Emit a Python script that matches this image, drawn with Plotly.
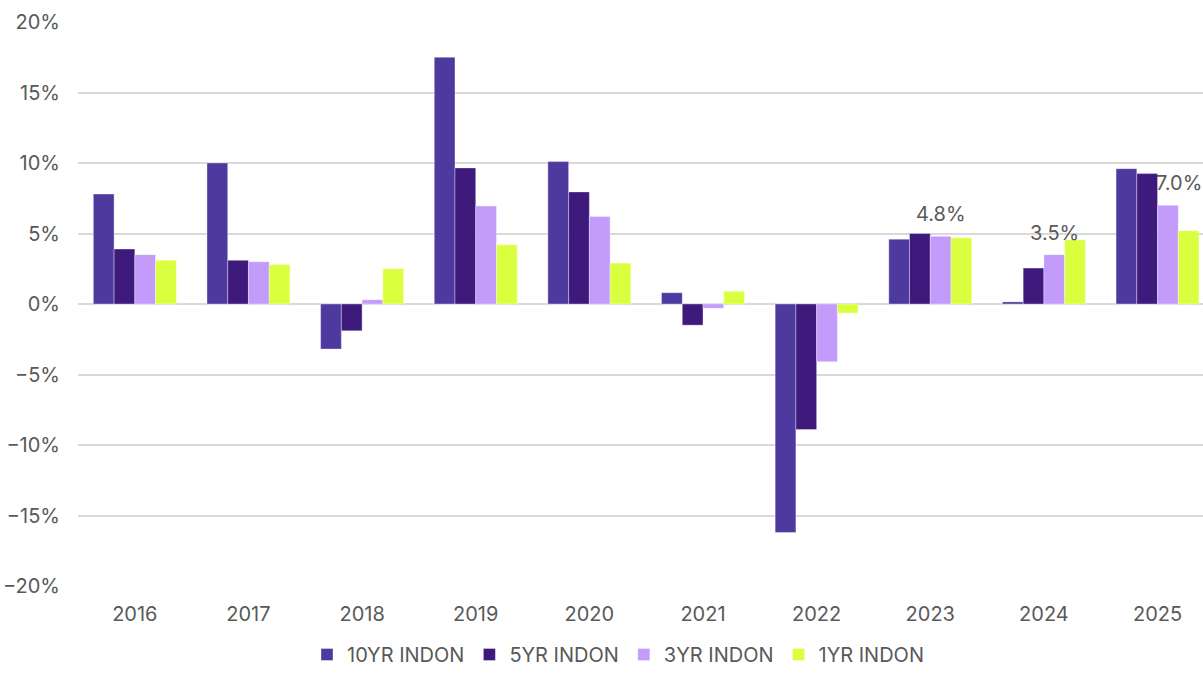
import plotly.graph_objects as go

years = ["2016", "2017", "2018", "2019", "2020", "2021", "2022", "2023", "2024", "2025"]
yr10 = [7.8, 10.0, -3.2, 17.5, 10.1, 0.8, -16.2, 4.6, 0.15, 9.6]
yr5 = [3.9, 3.1, -1.9, 9.65, 7.95, -1.5, -8.9, 5.0, 2.55, 9.25]
yr3 = [3.5, 3.0, 0.3, 6.95, 6.2, -0.3, -4.1, 4.8, 3.5, 7.0]
yr1 = [3.1, 2.8, 2.5, 4.2, 2.9, 0.9, -0.65, 4.7, 4.55, 5.2]
series_names = ["10YR INDON", "5YR INDON", "3YR INDON", "1YR INDON"]
colors = ["#4E3A9F", "#3D1A7C", "#C39BFA", "#DAFF3F"]
label_years = ["2023", "2024", "2025"]
label_xshift = [0, 0, 11]

FONT = "Inter, Roboto, sans-serif"
GREY = "#595959"
BARGAP = 0.27

fig = go.Figure()
for name, vals, col in zip(series_names, [yr10, yr5, yr3, yr1], colors):
    fig.add_trace(go.Bar(
        x=years, y=vals, name=name,
        marker=dict(color=col, line=dict(color="rgba(255,255,255,0.35)", width=1)),
    ))

# data labels above the 3YR bars
bar_w = (1 - BARGAP) / 4
offset_3yr = bar_w * 0.5
for yname, xs in zip(label_years, label_xshift):
    i = years.index(yname)
    v = yr3[i]
    fig.add_annotation(
        x=i + offset_3yr, y=v, xref="x", yref="y",
        text=f"{v:.1f}%", showarrow=False,
        yanchor="bottom", xanchor="center", yshift=8, xshift=xs,
        font=dict(family=FONT, size=20, color=GREY),
    )

fig.update_layout(
    width=1203, height=674,
    margin=dict(l=78, r=0, t=22, b=88, autoexpand=False),
    paper_bgcolor="white", plot_bgcolor="white",
    barmode="group", bargap=BARGAP, bargroupgap=0,
    font=dict(family=FONT, size=20, color=GREY),
    legend=dict(orientation="h", x=0.48, xanchor="center",
                yref="container", y=0.0, yanchor="bottom",
                font=dict(family=FONT, size=20, color=GREY), itemwidth=30),
    showlegend=True,
)
fig.update_xaxes(
    type="category", range=[-0.5, 9.4], showgrid=False, showline=False,
    ticks="", tickfont=dict(family=FONT, size=20, color=GREY), ticklabelstandoff=14,
)
fig.update_yaxes(
    range=[-20, 20], dtick=5, tick0=0, ticksuffix="%",
    showgrid=True, gridcolor="#D9D9D9", gridwidth=1.5,
    zeroline=True, zerolinecolor="#D9D9D9", zerolinewidth=1.5,
    showline=False, ticks="", ticklabelstandoff=17,
    tickfont=dict(family=FONT, size=20, color=GREY),
)

fig.write_html(
    "out.html",
    config={"displayModeBar": False},
    post_script="document.body.style.margin='0';document.body.style.overflow='hidden';",
)
